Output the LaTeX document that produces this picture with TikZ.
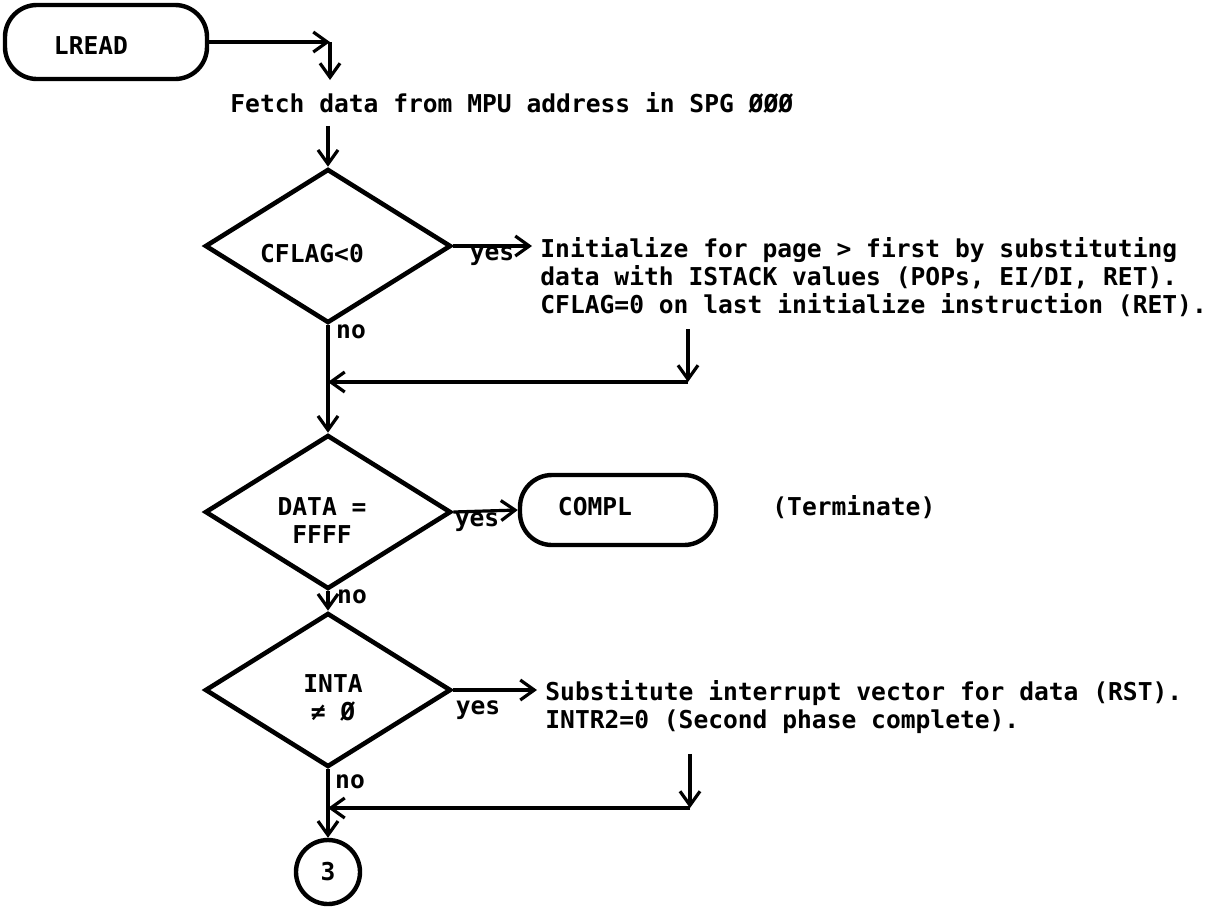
\documentclass[tikz,border=0pt]{standalone}
\usepackage{fontspec}
\newfontfamily\flowfont{DejaVu Sans Mono Bold}
\usetikzlibrary{shapes.geometric,arrows.meta}
\tikzset{
  flow/.style={line width=1.6pt},
  arr/.style={flow,-{Straight Barb[length=7pt,width=10pt,line width=1.6pt]}},
  term/.style={draw,line width=2.2pt,rounded corners=16pt,minimum width=101pt,minimum height=37pt},
  decide/.style={draw,diamond,line width=2.3pt,inner sep=0pt,minimum width=123pt,minimum height=77pt},
  conn/.style={draw,circle,line width=2.2pt,minimum size=32pt,inner sep=0pt},
  txt/.style={align=left,inner sep=0pt,anchor=north west},
  lbl/.style={inner sep=0pt}
}
\begin{document}
\begin{tikzpicture}[x=0.5pt,y=-0.5pt,font=\flowfont\fontsize{12.3}{14}\selectfont]
\useasboundingbox (0,0) rectangle (1215,906);
% boxes, decisions and texts
\node[term] (lread) at (106,42) {};
\node[lbl] (lreadtext) at (91,46) {LREAD};
\node[lbl,anchor=west] (fetch) at (230,103) {Fetch data from MPU address in SPG ØØØ};
\node[decide] (cflag) at (328,246) {};
\node[lbl] (cflagtext) at (312,254) {CFLAG<0};
\node[txt] (init) at (540,237) {Initialize for page > first by substituting\\
  data with ISTACK values (POPs, EI/DI, RET).\\
  CFLAG=0 on last initialize instruction (RET).};
\node[decide] (data) at (328,512) {};
\node[lbl,align=center] (datatext) at (322,521) {DATA =\\FFFF};
\node[term,minimum width=98pt,minimum height=35pt] (compl) at (618,510) {};
\node[lbl] (compltext) at (595,507) {COMPL};
\node[lbl,anchor=west] (termtext) at (772,507) {(Terminate)};
\node[decide] (inta) at (328,690) {};
\node[lbl,align=center] (intatext) at (333,698) {INTA\\≠ Ø};
\node[txt] (subst) at (545,680) {Substitute interrupt vector for data (RST).\\
  INTR2=0 (Second phase complete).};
\node[conn] (pg3) at (328,872) {3};
% yes / no
\node[lbl] (yes1) at (492,256) {yes};
\node[lbl] (no1) at (351,332) {no};
\node[lbl] (yes2) at (477,522) {yes};
\node[lbl] (no2) at (352,597) {no};
\node[lbl] (yes3) at (478,710) {yes};
\node[lbl] (no3) at (350,782) {no};
% connectors
\coordinate (lreadturn) at (330,42);
\coordinate (fetchin) at (330,80);
\coordinate (initout) at (688,382);
\coordinate (substout) at (690,808);
\draw[arr] (lread.east) -- (lreadturn);
\draw[arr] (lreadturn) -- (fetchin);
\draw[arr,shorten <=6pt] (fetch.south -| cflag.north) -- (cflag.north);
\draw[arr,shorten >=4pt] (cflag.east) -- (init.west |- cflag.east);
\draw[arr] (cflag.south) -- (data.north);
\draw[arr,shorten <=6pt] (init.south -| initout) -- (initout);
\draw[arr] (initout) -- (cflag.south |- initout);
\draw[arr] (data.east) -- (compl.west);
\draw[arr] (data.south) -- (inta.north);
\draw[arr,shorten >=4pt] (inta.east) -- (subst.west |- inta.east);
\draw[arr,shorten <=10pt] (subst.south -| substout) -- (substout);
\draw[arr] (substout) -- (inta.south |- substout);
\draw[arr] (inta.south) -- (pg3.north);
\end{tikzpicture}
\end{document}
